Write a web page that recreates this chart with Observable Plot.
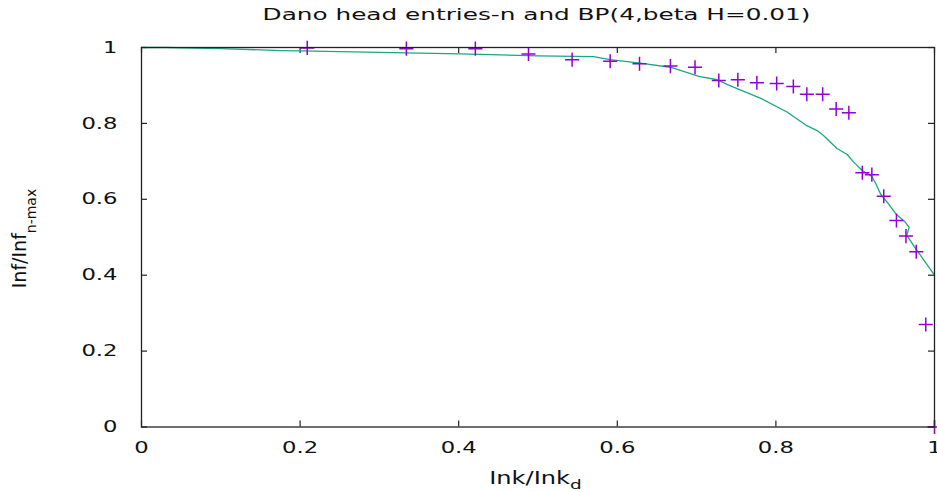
<!DOCTYPE html>
<html>
<head>
<meta charset="utf-8">
<script src="https://cdn.jsdelivr.net/npm/d3@7"></script>
<script src="https://cdn.jsdelivr.net/npm/@observablehq/plot@0.6"></script>
<style>
  body { margin: 0; background: #fff; }
  svg { display: block; }
</style>
</head>
<body>
<div id="chart"></div>
<script>
// ---- data ----
const titleText = "Dano head entries-n and BP(4,beta H=0.01)";
const xLabelMain = "Ink/Ink";
const xLabelSub = "d";
const yLabelMain = "Inf/Inf";
const yLabelSub = "n-max";

const xTicks = [0, 0.2, 0.4, 0.6, 0.8, 1];
const xTickLabels = ["0", "0.2", "0.4", "0.6", "0.8", "1"];
const yTicks = [0, 0.2, 0.4, 0.6, 0.8, 1];
const yTickLabels = ["0", "0.2", "0.4", "0.6", "0.8", "1"];

// head-entries points (+)
const pointX = [0.209, 0.334, 0.421, 0.488, 0.543, 0.591, 0.628, 0.667, 0.698,
  0.728, 0.752, 0.776, 0.801, 0.822, 0.839, 0.859, 0.876, 0.892,
  0.909, 0.921, 0.936, 0.952, 0.964, 0.977, 0.989, 1.0];
const pointY = [0.999, 0.997, 0.997, 0.983, 0.968, 0.964, 0.957, 0.951, 0.948,
  0.913, 0.915, 0.907, 0.905, 0.897, 0.877, 0.877, 0.838, 0.828,
  0.670, 0.665, 0.608, 0.544, 0.503, 0.462, 0.270, 0.0];

// BP curve
const lineX = [0, 0.03, 0.1, 0.175, 0.2, 0.3, 0.402, 0.5, 0.57, 0.591, 0.629, 0.667,
  0.703, 0.726, 0.739, 0.781, 0.814, 0.839, 0.852, 0.860, 0.877, 0.890, 0.898, 0.909,
  0.921, 0.926, 0.932, 0.942, 0.951, 0.963, 0.968, 0.965, 0.978, 1.0];
const lineY = [1, 1, 0.997, 0.992, 0.991, 0.987, 0.983, 0.978, 0.976, 0.968, 0.959, 0.948,
  0.924, 0.915, 0.902, 0.866, 0.830, 0.794, 0.781, 0.768, 0.734, 0.718, 0.698, 0.676,
  0.660, 0.641, 0.614, 0.588, 0.562, 0.540, 0.526, 0.505, 0.465, 0.40];

const points = pointX.map((x, i) => ({x, y: pointY[i]}));
const curve = lineX.map((x, i) => ({x, y: lineY[i]}));

// ---- layout ----
const W = 937, H = 492;
const mL = 141, mR = 3, mT = 47, mB = 65.5;
const plotH = H - mT - mB, plotW = W - mL - mR;
const tickLen = 6;

const chart = Plot.plot({
  width: W,
  height: H,
  marginLeft: mL,
  marginRight: mR,
  marginTop: mT,
  marginBottom: mB,
  style: {fontFamily: "DejaVu Sans", fontSize: "16px", color: "#111", background: "#fff"},
  x: {domain: [0, 1], label: null},
  y: {domain: [0, 1], label: null},
  marks: [
    Plot.axisX({ticks: xTicks, tickSize: 0, tickPadding: 15, tickFormat: (d, i) => xTickLabels[i], label: null, fontSize: 16}),
    Plot.axisY({ticks: yTicks, tickSize: 0, tickPadding: 24, tickFormat: (d, i) => yTickLabels[i], label: null, fontSize: 16}),
    // inward ticks on all four sides
    Plot.ruleX(xTicks, {x: d => d, insetTop: plotH - tickLen, stroke: "#222", strokeWidth: 1.2}),
    Plot.ruleX(xTicks, {x: d => d, insetBottom: plotH - tickLen, stroke: "#222", strokeWidth: 1.2}),
    Plot.ruleY(yTicks, {y: d => d, insetRight: plotW - tickLen, stroke: "#222", strokeWidth: 1.2}),
    Plot.ruleY(yTicks, {y: d => d, insetLeft: plotW - tickLen, stroke: "#222", strokeWidth: 1.2}),
    Plot.line(curve, {x: "x", y: "y", stroke: "#19a882", strokeWidth: 1.3}),
    Plot.dot(points, {x: "x", y: "y", symbol: "plus", r: 4.6, stroke: "#9400d3", strokeWidth: 1.5}),
    Plot.frame({stroke: "#222", strokeWidth: 1.3})
  ]
});

document.getElementById("chart").appendChild(chart);

// ---- text post-processing (wide font look of the reference) ----
const svg = d3.select(chart);
function stretch(sel, s) {
  sel.each(function () {
    let pre = "";
    const xa = this.getAttribute("x");
    if (xa !== null && isFinite(+xa) && +xa !== 0) {
      pre = ` translate(${+xa},0)`;
      this.removeAttribute("x");
    }
    const t = this.getAttribute("transform") || "";
    this.setAttribute("transform", `${t}${pre} scale(${s},1)`);
  });
}
stretch(svg.selectAll('g[aria-label="x-axis tick label"] text'), 1.42);
stretch(svg.selectAll('g[aria-label="y-axis tick label"] text'), 1.42);

// title
svg.append("text")
  .attr("transform", `translate(${mL + plotW / 2 - 1},19.5) scale(1.5,1)`)
  .attr("text-anchor", "middle")
  .attr("font-family", "DejaVu Sans")
  .attr("font-size", 16.5)
  .attr("fill", "#111")
  .text(titleText);

// x label
const xl = svg.append("text")
  .attr("transform", `translate(${mL + plotW / 2 - 2},484) scale(1.42,1)`)
  .attr("text-anchor", "middle")
  .attr("font-family", "DejaVu Sans")
  .attr("font-size", 17)
  .attr("fill", "#111");
xl.append("tspan").text(xLabelMain);
xl.append("tspan").attr("font-size", 13).attr("dy", 4.5).text(xLabelSub);

// y label
const yl = svg.append("text")
  .attr("transform", `translate(26,238.5) rotate(-90)`)
  .attr("text-anchor", "middle")
  .attr("font-family", "DejaVu Sans")
  .attr("font-size", 19)
  .attr("fill", "#111");
yl.append("tspan").text(yLabelMain);
yl.append("tspan").attr("font-size", 14).attr("dy", 10).text(yLabelSub);
</script>
</body>
</html>
